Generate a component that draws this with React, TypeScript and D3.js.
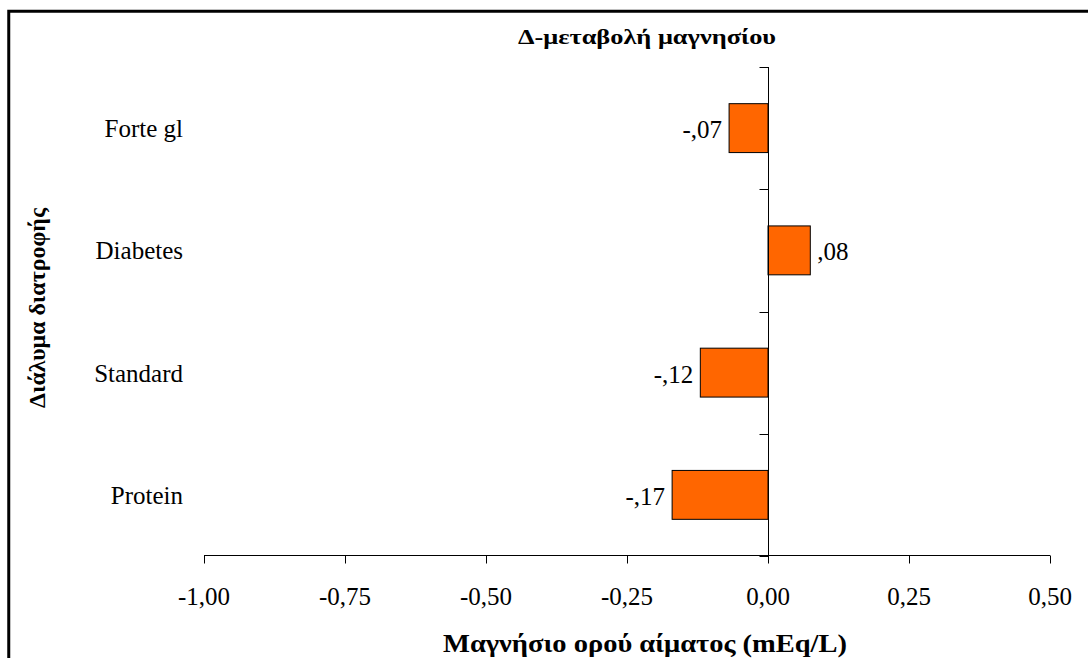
import React from "react";
import * as d3 from "d3";

const categories = ["Forte gl", "Diabetes", "Standard", "Protein"];
const values = [-0.069, 0.075, -0.12, -0.17];
const valueLabels = ["-,07", ",08", "-,12", "-,17"];
const xTicks = [-1.0, -0.75, -0.5, -0.25, 0.0, 0.25, 0.5];
const xTickLabels = ["-1,00", "-0,75", "-0,50", "-0,25", "0,00", "0,25", "0,50"];
const title = "Δ-μεταβολή μαγνησίου";
const xTitle = "Μαγνήσιο ορού αίματος (mEq/L)";
const yTitle = "Διάλυμα διατροφής";

const W = 1088;
const H = 658;
const FONT = "'Liberation Serif', 'Times New Roman', serif";

export default function App() {
  const x = d3.scaleLinear().domain([-1, 0.5]).range([204, 1050]);
  const y = d3
    .scaleBand<string>()
    .domain(categories)
    .range([67, 556])
    .paddingInner(0.6)
    .paddingOuter(0.3);
  const step = y.step();
  const axisY = 555.5;
  const x0 = Math.round(x(0)) + 0.5;
  const boundaries = d3.range(categories.length + 1).map((i) => 67 + i * step);

  return (
    <svg
      width={W}
      height={H}
      style={{ position: "absolute", left: 0, top: 0, background: "#fff", fontFamily: FONT }}
    >
      <rect x={0} y={0} width={W} height={H} fill="#fff" />
      {/* outer frame */}
      <path d={`M8.75,${H + 20}V11.25H${W + 20}`} fill="none" stroke="#000" strokeWidth={3} />

      {/* title */}
      <text
        x={647}
        y={43.5}
        textAnchor="middle"
        fontSize={22}
        fontWeight="bold"
        textLength={258}
        lengthAdjust="spacingAndGlyphs"
      >
        {title}
      </text>

      {/* bars */}
      {categories.map((c, i) => {
        const v = values[i];
        const bx = Math.min(x(v), x(0));
        const bw = Math.abs(x(v) - x(0));
        const by = y(c)!;
        return (
          <g key={c}>
            <rect
              x={bx}
              y={by}
              width={bw}
              height={y.bandwidth()}
              fill="#FF6600"
              stroke="#000"
              strokeWidth={1}
            />
            <text
              x={v < 0 ? x(v) - 7 : x(v) + 7}
              y={by + y.bandwidth() / 2 + 10}
              textAnchor={v < 0 ? "end" : "start"}
              fontSize={25}
            >
              {valueLabels[i]}
            </text>
          </g>
        );
      })}

      {/* x axis */}
      <line x1={x(-1)} x2={x(0.5)} y1={axisY} y2={axisY} stroke="#000" strokeWidth={1} />
      {xTicks.map((t, i) => (
        <g key={t}>
          <line
            x1={Math.round(x(t)) + 0.5}
            x2={Math.round(x(t)) + 0.5}
            y1={axisY}
            y2={axisY + 8}
            stroke="#000"
            strokeWidth={1}
          />
          <text x={x(t)} y={605} textAnchor="middle" fontSize={25}>
            {xTickLabels[i]}
          </text>
        </g>
      ))}

      {/* y axis at zero */}
      <line x1={x0} x2={x0} y1={67} y2={563} stroke="#000" strokeWidth={1} />
      {boundaries.map((b, i) => (
        <line
          key={i}
          x1={x0 - 9}
          x2={x0}
          y1={Math.round(b) + 0.5}
          y2={Math.round(b) + 0.5}
          stroke="#000"
          strokeWidth={1}
        />
      ))}

      {/* category labels */}
      {categories.map((c) => (
        <text
          key={c}
          x={183}
          y={y(c)! + y.bandwidth() / 2 + 9}
          textAnchor="end"
          fontSize={25}
        >
          {c}
        </text>
      ))}

      {/* axis titles */}
      <text
        x={645}
        y={652}
        textAnchor="middle"
        fontSize={25}
        fontWeight="bold"
        textLength={404}
        lengthAdjust="spacingAndGlyphs"
      >
        {xTitle}
      </text>
      <text
        transform={`translate(45,308) rotate(-90)`}
        textAnchor="middle"
        fontSize={24}
        fontWeight="bold"
        textLength={200}
        lengthAdjust="spacingAndGlyphs"
      >
        {yTitle}
      </text>
    </svg>
  );
}
